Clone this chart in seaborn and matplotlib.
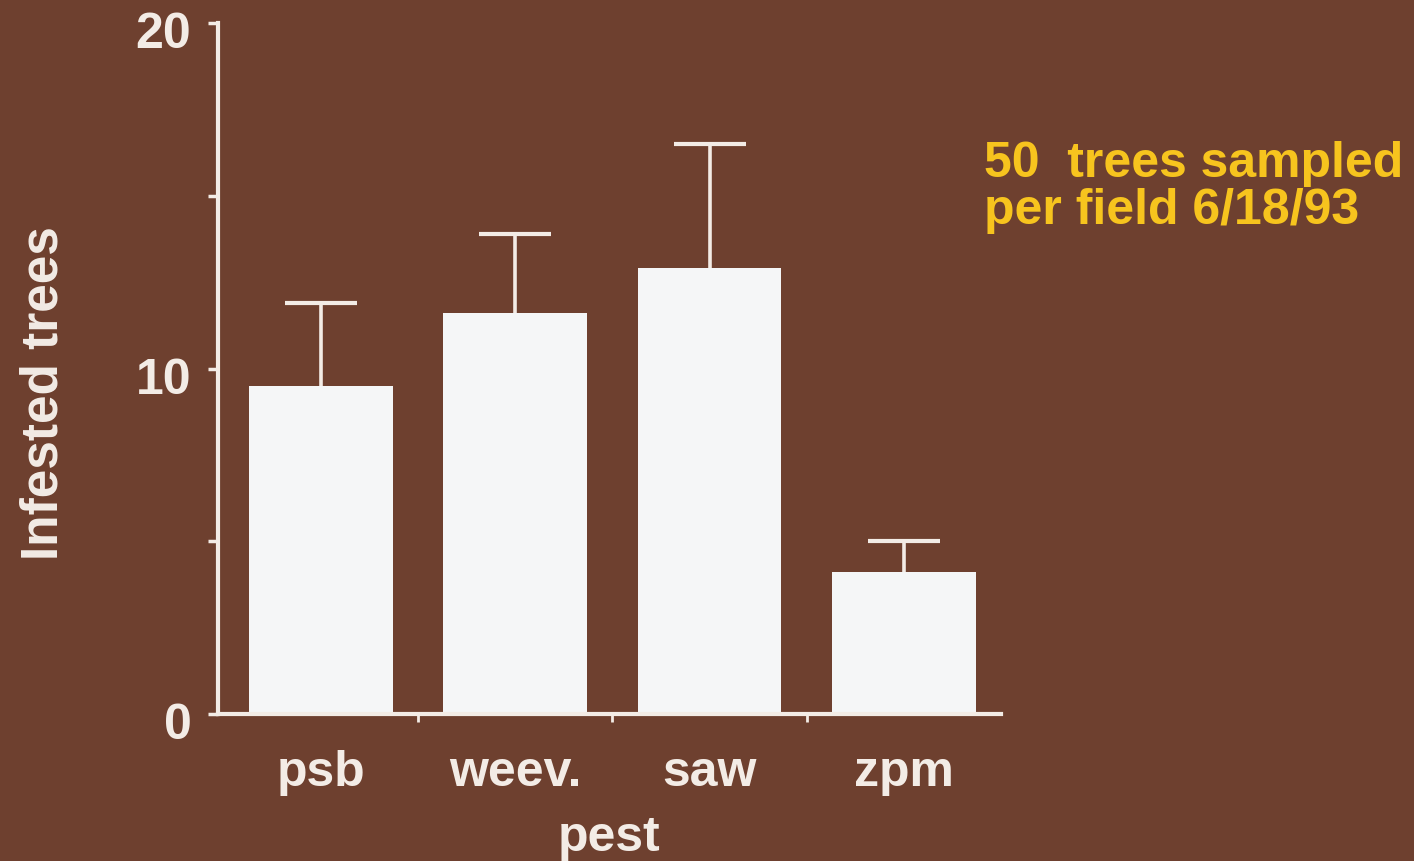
import matplotlib
matplotlib.use("Agg")
import matplotlib.pyplot as plt
import matplotlib.transforms as mtransforms
import seaborn as sns
import pandas as pd
import numpy as np

# Mean infested trees per pest, with the upper standard error
pests = ["psb", "weev.", "saw", "zpm"]
infested = [9.5, 11.6, 12.9, 4.1]
upper_err = [2.4, 2.3, 3.6, 0.9]

note_lines = ["50  trees sampled", "per field 6/18/93"]

bg = "#6e402f"
fg = "#f3ece6"
bar_fill = "#f5f6f7"
note_color = "#f7c41e"

sns.set_theme(style="ticks")
plt.rcParams["font.family"] = ["Liberation Sans", "DejaVu Sans"]
plt.rcParams["font.weight"] = "bold"

df = pd.DataFrame({"pest": pests, "infested": infested, "err": upper_err})

fig = plt.figure(figsize=(14.14, 8.61), dpi=100, facecolor=bg)
ax = fig.add_axes([0.154, 0.171, 0.554, 0.802], facecolor=bg)

sns.barplot(data=df, x="pest", y="infested", order=pests, color=bar_fill,
            saturation=1, width=0.74, errorbar=None, edgecolor="none",
            zorder=2, ax=ax)

# one-sided (upper) error bars
_, caps, _ = ax.errorbar(np.arange(len(pests)), df["infested"],
                         yerr=[np.zeros(len(pests)), df["err"]],
                         fmt="none", ecolor=fg, elinewidth=2.6, capsize=26,
                         capthick=3.0, zorder=1)
caps[0].set_visible(False)  # no cap on the lower side

ax.set_ylim(0, 20)
ax.set_xlim(-0.53, 3.5)
ax.set_yticks([0, 10, 20])
ax.set_yticks([5, 15], minor=True)
ax.set_xticks([0.5, 1.5, 2.5], minor=True)

for side in ("top", "right"):
    ax.spines[side].set_visible(False)
for side in ("left", "bottom"):
    ax.spines[side].set_color(fg)
    ax.spines[side].set_linewidth(3)

ax.tick_params(axis="y", which="both", colors=fg, length=7, width=2.5,
               labelsize=36, pad=12, labelcolor=fg)
ax.tick_params(axis="x", which="major", length=0, pad=26, labelsize=36,
               labelcolor=fg)
ax.tick_params(axis="x", which="minor", length=6, width=2, colors=fg)

# value labels sit slightly below their ticks
shift = mtransforms.ScaledTranslation(0, -7 / 100, fig.dpi_scale_trans)
for lab in ax.get_yticklabels():
    lab.set_fontweight("bold")
    lab.set_transform(lab.get_transform() + shift)
for lab in ax.get_xticklabels():
    lab.set_fontweight("bold")

ax.set_xlabel("pest", fontsize=36, fontweight="bold", color=fg, labelpad=14)
ax.set_ylabel("Infested trees", fontsize=37, fontweight="bold", color=fg,
              labelpad=0)
ax.yaxis.set_label_coords(-0.19, 0.465)

fig.text(0.696, 0.836, "\n".join(note_lines), color=note_color,
         fontsize=36, fontweight="bold", ha="left", va="top", linespacing=1.02)

fig.savefig("out.png", dpi=100, facecolor=bg)
